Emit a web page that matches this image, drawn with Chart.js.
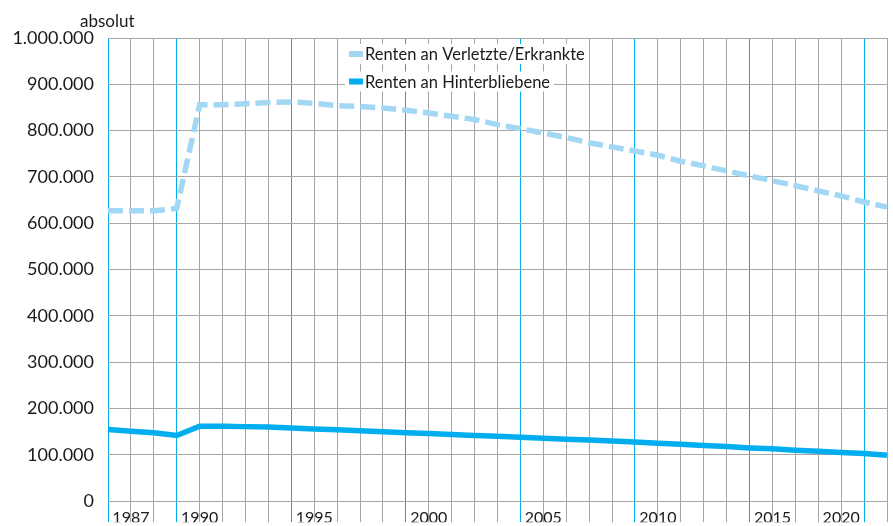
<!DOCTYPE html>
<html lang="de">
<head>
<meta charset="utf-8">
<script src="https://cdn.jsdelivr.net/npm/chart.js@4.4.1/dist/chart.umd.min.js"></script>
<style>
  html, body { margin: 0; padding: 0; background: #fff; }
  #wrap { width: 893px; height: 526px; }
</style>
</head>
<body>
<div id="wrap"><canvas id="rentenChart" width="893" height="526"></canvas></div>
<script>
const years = [1987, 1988, 1989, 1990, 1991, 1992, 1993, 1994, 1995, 1996, 1997, 1998,
  1999, 2000, 2001, 2002, 2003, 2004, 2005, 2006, 2007, 2008, 2009, 2010, 2011, 2012,
  2013, 2014, 2015, 2016, 2017, 2018, 2019, 2020, 2021];

const verletzte = [627000, 627000, 627000, 632000, 856000, 856000, 858000, 861000, 862000,
  859000, 854000, 852000, 849000, 844000, 838000, 831000, 824000, 813000, 804000, 795000,
  785000, 774000, 765000, 756000, 747000, 734000, 724000, 713000, 702000, 692000, 681000,
  670000, 659000, 646000, 635000];

const hinterbliebene = [155000, 151000, 148000, 142000, 162000, 162000, 161000, 160000, 158000,
  156000, 154000, 152000, 150000, 148000, 146000, 144000, 142000, 140000, 138000, 136000,
  134000, 132000, 130000, 128000, 125000, 123000, 120000, 118000, 115000, 113000, 110000,
  108000, 105000, 103000, 99000];

// years that get a label and a blue grid line
const tickYears = [1987, 1990, 1995, 2000, 2005, 2010, 2015, 2020];

const BLUE = '#00aeef';
const LIGHT = '#a3d8f5';
const GRAY = '#a6a6a6';
const FONT = 'Lato';

function dots(n) {
  return String(n).replace(/\B(?=(\d{3})+(?!\d))/g, '.');
}

// label sits in the column right of its grid line, or left of it when there is no room
function labelFor(index) {
  const last = years.length - 1;
  for (const t of tickYears) {
    const i = years.indexOf(t);
    const pos = (i + 1 >= last) ? i - 1 : i + 1;
    if (pos === index) return String(t);
  }
  return '';
}

const absolutLabel = {
  id: 'absolutLabel',
  afterDraw(chart) {
    const ctx = chart.ctx;
    ctx.save();
    ctx.font = '17px ' + FONT;
    ctx.fillStyle = '#1a1a1a';
    ctx.textBaseline = 'alphabetic';
    ctx.fillText('absolut', 80, 27);
    ctx.restore();
  }
};

const boxLegend = {
  id: 'boxLegend',
  afterDraw(chart) {
    const ctx = chart.ctx;
    ctx.save();
    ctx.font = '16.5px ' + FONT;
    ctx.textBaseline = 'middle';
    chart.data.datasets.forEach((ds, i) => {
      const x = 349;
      const y = 54 + i * 27.5;
      const w = ctx.measureText(ds.label).width;
      ctx.fillStyle = '#fff';
      ctx.fillRect(x - 4, y - 10, 16 + w + 8, 20);
      ctx.fillStyle = ds.borderColor;
      ctx.fillRect(x, y - 3, 14, 6);
      ctx.fillStyle = '#1a1a1a';
      ctx.fillText(ds.label, x + 16, y + 1);
    });
    ctx.restore();
  }
};

const ctx = document.getElementById('rentenChart').getContext('2d');
new Chart(ctx, {
  type: 'line',
  data: {
    labels: years,
    datasets: [
      {
        label: 'Renten an Verletzte/Erkrankte',
        data: verletzte,
        borderColor: LIGHT,
        borderWidth: 5.5,
        borderDash: [15, 6],
        pointRadius: 0,
        tension: 0,
        fill: false
      },
      {
        label: 'Renten an Hinterbliebene',
        data: hinterbliebene,
        borderColor: BLUE,
        borderWidth: 5.5,
        pointRadius: 0,
        tension: 0,
        fill: false
      }
    ]
  },
  options: {
    responsive: false,
    animation: false,
    layout: { padding: { top: 38, right: 6, bottom: 0, left: 0 } },
    plugins: {
      legend: { display: false },
      tooltip: { enabled: false }
    },
    scales: {
      x: {
        offset: false,
        border: { display: false },
        grid: {
          color: c => tickYears.includes(years[c.index]) ? BLUE : GRAY,
          lineWidth: 1,
          drawTicks: true,
          tickLength: 21
        },
        ticks: {
          autoSkip: false,
          maxRotation: 0,
          minRotation: 0,
          padding: -14,
          color: '#1a1a1a',
          font: { family: FONT, size: 16 },
          callback: (value, index) => labelFor(index)
        },
        afterFit: scale => { scale.height = 21; }
      },
      y: {
        min: 0,
        max: 1000000,
        border: { display: false },
        grid: { color: GRAY, lineWidth: 1, drawTicks: false },
        ticks: {
          stepSize: 100000,
          padding: 14,
          color: '#1a1a1a',
          font: { family: FONT, size: 18 },
          callback: v => dots(v)
        },
        afterFit: scale => { scale.width = 108; }
      }
    }
  },
  plugins: [absolutLabel, boxLegend]
});
</script>
</body>
</html>
